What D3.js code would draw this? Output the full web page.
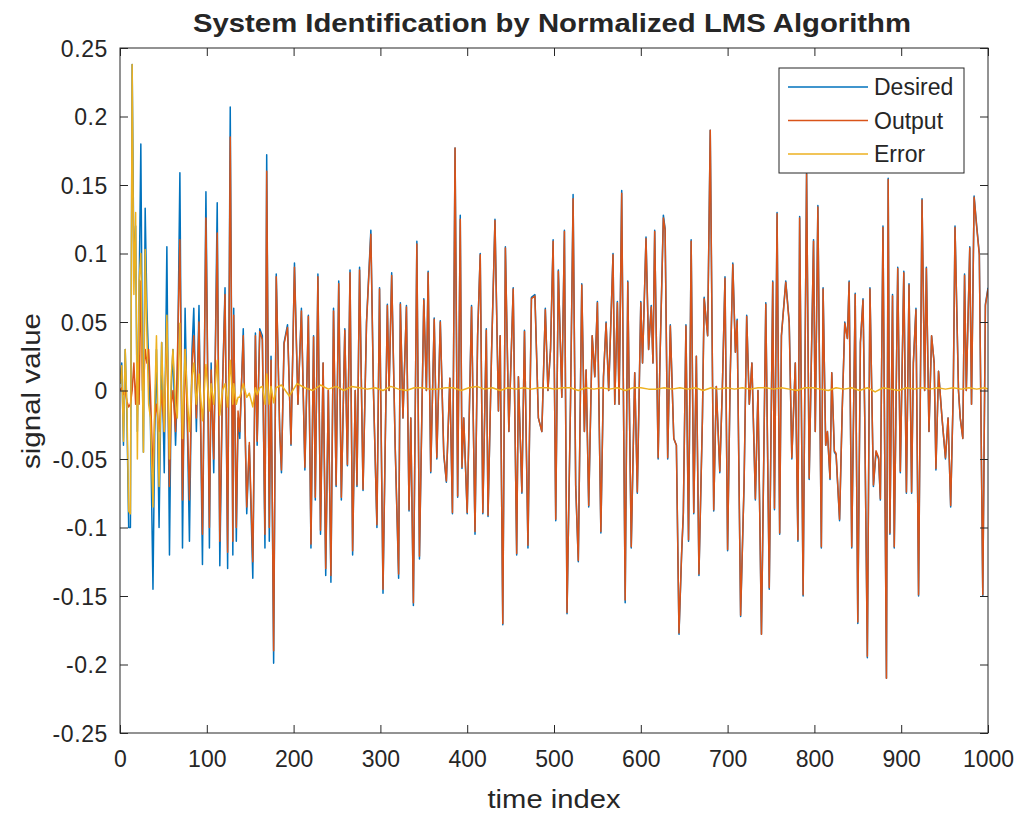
<!DOCTYPE html>
<html><head><meta charset="utf-8">
<script src="https://cdn.jsdelivr.net/npm/d3@7"></script>
<style>
body{margin:0;background:#fff;}
text{font-family:"Liberation Sans",Arial,Helvetica,sans-serif;fill:#262626;}
</style>
</head><body>
<svg id="chart" width="1019" height="815"></svg>
<script>
const timeIndex = [
0,2,4,6,8,10,12,14,16,18,
20,22,24,26,27,29,31,33,35,38,
40,42,45,48,51,54,57,59,61,64,
66,69,72,75,78,80,83,85,88,91,
95,99,103,105,108,112,115,118,121,124,
127,130,131,134,136,138,142,146,149,153,
156,158,161,164,167,169,172,174,177,180,
184,186,189,193,197,201,205,209,213,217,
220,223,225,228,231,234,237,240,243,246,
249,252,255,259,262,265,268,271,273,276,
280,284,289,292,296,299,303,308,310,313,
317,321,323,326,330,333,335,338,342,345,
350,353,355,358,362,365,369,373,376,380,
383,386,389,392,394,396,400,405,409,412,
415,418,422,424,428,432,436,438,441,444,
448,453,457,459,463,466,470,474,478,482,
486,490,493,496,499,502,505,509,512,515,
519,522,525,528,532,535,537,540,544,547,
550,554,557,560,563,568,570,573,575,578,
582,585,589,593,596,600,602,606,609,612,
614,616,620,622,626,628,631,634,638,641,
644,647,649,652,655,658,661,664,667,671,
673,677,680,684,687,691,694,697,700,703,
706,709,711,715,719,722,725,728,732,735,
739,744,748,752,754,757,760,762,767,771,
774,778,781,783,787,791,794,799,801,804,
808,810,813,815,818,820,823,825,829,832,
835,838,840,843,847,850,853,856,858,861,
864,868,871,874,876,879,883,885,887,890,
892,896,899,903,906,909,912,914,917,920,
924,927,929,932,935,938,940,943,947,951,
954,957,960,962,966,968,971,973,975,979,
981,984,987,990,994,997,1000];

const desired = [
0.005,0.02,-0.04,0.03,-0.02,-0.1,-0.1,0.238,0.09,0.12,
-0.03,0.07,0.18,0,-0.045,0.133,0.06,0.02,-0.02,-0.145,
-0.03,0.03,-0.1,0.035,-0.06,0.105,-0.12,0,0.03,-0.04,
0,0.159,-0.115,0.06,-0.04,-0.11,0.03,0.06,-0.03,0.062,
-0.127,0.145,-0.115,0.02,-0.06,0.137,-0.128,0,0.075,-0.13,
0.207,-0.12,0.06,-0.11,-0.02,-0.035,0.045,-0.09,-0.04,-0.137,
0.042,-0.04,0.045,0.04,-0.115,0.172,-0.11,0.025,-0.199,0.085,
-0.03,-0.06,0.035,0.048,-0.04,0.093,-0.01,0.06,-0.058,0.055,
-0.115,0.04,-0.08,0.085,-0.105,0.02,-0.135,0,-0.14,0.06,
-0.07,0.08,-0.08,0.045,-0.055,0.088,-0.12,0,-0.07,0.09,
-0.073,0.05,0.117,0,-0.1,0.075,-0.148,0.063,0,0.086,
-0.04,-0.137,0.064,-0.02,0.062,-0.088,-0.02,-0.157,0.109,-0.123,
0.067,0,0.087,-0.06,0.053,-0.05,0.051,-0.047,-0.067,0.009,
-0.09,0.177,-0.078,0.128,-0.057,-0.02,-0.09,0.062,-0.105,0.04,
0.1,-0.09,0.045,-0.092,0.026,0.125,-0.015,0.04,-0.171,0.105,
-0.03,0.075,-0.12,0.01,-0.075,0.044,-0.115,0.068,0.07,-0.02,
-0.03,0.06,0,0.03,0.11,-0.095,0.088,-0.005,0.117,-0.163,
-0.01,0.143,-0.07,-0.125,0.078,-0.03,0.015,-0.085,0.04,0.01,
0.065,-0.104,0.01,0.05,0,0.1,-0.01,0.065,-0.01,0.146,
-0.155,0.08,-0.115,0.013,-0.075,0.065,0.02,0.112,0.03,0.062,
0.02,0.117,-0.05,0.02,0.128,0.118,-0.05,0.048,-0.035,-0.04,
-0.178,-0.12,-0.09,0.048,-0.11,0.11,-0.09,0.025,-0.135,-0.02,
0.068,0.04,0.19,-0.088,0.003,-0.06,0.003,0.083,-0.117,0.01,
0.093,0.028,0.052,-0.165,-0.068,0.055,-0.01,0.02,-0.08,0,
-0.178,0.064,-0.145,0.08,-0.087,0.13,-0.105,0.04,0.08,0.05,
-0.05,0.02,-0.11,0.127,-0.15,0.16,-0.065,0.11,-0.03,0.135,
-0.115,0.075,-0.04,-0.03,-0.065,0.013,-0.045,-0.047,-0.095,-0.015,
0.05,0.038,0.08,-0.115,0.071,-0.17,0.035,0.067,-0.02,-0.195,
0.075,-0.07,-0.045,-0.05,-0.08,0.12,-0.21,0.155,-0.105,0.07,
-0.115,0.09,-0.06,0.087,-0.075,0.078,-0.075,0.02,0.06,-0.15,
0.14,0,0.09,-0.03,0.04,0.02,-0.058,0.014,-0.02,-0.05,
-0.02,-0.085,0,0.12,0,-0.02,-0.035,0.085,0,0.105,
-0.01,0.142,0.12,0.1,-0.15,0.063,0.075];

const output = [
0,0.002,-0.003,0,-0.008,-0.012,-0.01,0,0.02,-0.01,
0.02,-0.01,0.08,0,0,0.03,0.02,0.03,0,-0.06,
-0.02,-0.01,-0.03,0,-0.03,0.05,-0.07,-0.01,0,-0.03,
0.02,0.11,-0.08,0.03,-0.03,-0.08,0.02,0.04,-0.02,0.05,
-0.105,0.126,-0.1,0.015,-0.05,0.115,-0.11,0,0.07,-0.118,
0.185,-0.11,0.055,-0.1,-0.015,-0.03,0.04,-0.085,-0.038,-0.125,
0.04,-0.037,0.043,0.037,-0.105,0.16,-0.1,0.022,-0.19,0.083,
-0.03,-0.058,0.034,0.046,-0.039,0.09,-0.01,0.058,-0.056,0.054,
-0.112,0.039,-0.078,0.083,-0.102,0.02,-0.13,0,-0.135,0.058,
-0.069,0.078,-0.078,0.044,-0.054,0.086,-0.117,0,-0.069,0.088,
-0.072,0.049,0.114,0,-0.098,0.074,-0.145,0.062,0,0.084,
-0.04,-0.134,0.063,-0.02,0.061,-0.087,-0.02,-0.155,0.107,-0.121,
0.066,0,0.086,-0.059,0.052,-0.049,0.05,-0.046,-0.066,0.009,
-0.089,0.177,-0.077,0.125,-0.056,-0.02,-0.089,0.061,-0.103,0.04,
0.099,-0.089,0.044,-0.091,0.026,0.124,-0.015,0.04,-0.17,0.104,
-0.03,0.074,-0.119,0.01,-0.074,0.043,-0.113,0.067,0.069,-0.02,
-0.03,0.059,0,0.03,0.109,-0.094,0.087,-0.005,0.116,-0.162,
-0.01,0.14,-0.069,-0.124,0.077,-0.03,0.015,-0.084,0.04,0.01,
0.064,-0.103,0.01,0.049,0,0.099,-0.01,0.064,-0.01,0.144,
-0.153,0.079,-0.114,0.013,-0.074,0.064,0.02,0.111,0.03,0.061,
0.02,0.116,-0.049,0.02,0.126,0.117,-0.049,0.047,-0.035,-0.04,
-0.177,-0.119,-0.089,0.047,-0.109,0.109,-0.089,0.025,-0.134,-0.02,
0.067,0.04,0.19,-0.087,0.003,-0.059,0.003,0.082,-0.116,0.01,
0.092,0.028,0.051,-0.164,-0.067,0.054,-0.01,0.02,-0.079,0,
-0.178,0.063,-0.144,0.079,-0.086,0.129,-0.104,0.04,0.079,0.049,
-0.049,0.02,-0.109,0.126,-0.149,0.158,-0.064,0.109,-0.03,0.134,
-0.114,0.074,-0.04,-0.03,-0.064,0.013,-0.044,-0.046,-0.094,-0.015,
0.049,0.038,0.079,-0.114,0.07,-0.169,0.035,0.066,-0.02,-0.194,
0.074,-0.069,-0.044,-0.049,-0.079,0.119,-0.21,0.154,-0.104,0.069,
-0.114,0.089,-0.059,0.086,-0.074,0.077,-0.074,0.02,0.059,-0.149,
0.139,0,0.089,-0.03,0.04,0.02,-0.057,0.014,-0.02,-0.049,
-0.02,-0.084,0,0.119,0,-0.02,-0.035,0.084,0,0.104,
-0.01,0.141,0.119,0.099,-0.149,0.062,0.074];

const errorIndex = [
0,2,4,6,8,10,12,14,16,18,
20,22,24,26,27,29,31,33,35,38,
40,42,45,48,51,54,57,59,61,64,
66,69,72,75,78,80,83,85,88,91,
95,99,103,105,108,112,115,118,121,124,
127,130,131,134,136,138,142,146,149,153,
156,158,161,164,167,169,172,174,177,180,
186,195,204,213,222,231,240,249,258,267,
276,285,294,303,312,321,330,339,348,357,
366,375,384,393,402,411,420,429,438,447,
456,465,474,483,492,501,510,519,528,537,
546,555,564,573,582,591,600,609,618,627,
636,645,654,663,672,681,690,699,708,717,
726,735,744,753,762,771,780,789,798,807,
816,825,834,843,852,861,870,879,888,897,
906,915,924,933,942,951,960,969,978,987,
996,1000];

const errorValues = [
0.005,0.018,-0.037,0.03,-0.012,-0.088,-0.09,0.238,0.07,0.13,
-0.05,0.08,0.1,0,-0.045,0.103,0.04,-0.01,-0.02,-0.085,
-0.01,0.04,-0.07,0.035,-0.03,0.055,-0.05,0.01,0.03,-0.01,
-0.02,0.049,-0.035,0.03,-0.01,-0.03,0.01,0.02,-0.01,0.012,
-0.022,0.019,-0.015,0.005,-0.01,0.022,-0.018,0,0.005,-0.012,
0.022,-0.01,0.005,-0.01,-0.005,-0.005,0.005,-0.005,-0.002,-0.012,
0.002,-0.003,0.002,0.003,-0.01,0.012,-0.01,0.003,-0.009,0.002,
0.004,-0.004,0.005,0.002,0.000,0.004,0.001,0.003,0.000,0.003,
0.002,0.001,0.002,0.000,0.003,0.001,0.000,0.002,0.002,0.001,
0.001,0.002,0.002,0.000,0.002,0.003,0.001,0.002,0.000,0.002,
0.001,0.002,0.001,0.002,0.002,0.001,0.002,0.002,0.000,0.002,
0.001,0.002,0.001,0.002,0.000,0.002,0.002,0.001,0.001,0.002,
0.001,0.002,0.001,0.002,0.000,0.002,0.001,0.002,0.001,0.002,
0.001,0.002,0.002,0.001,0.002,0.001,0.000,0.002,0.002,0.001,
0.000,0.002,0.001,0.002,0.000,0.002,-0.001,0.002,0.001,0.000,
0.002,0.001,0.002,0.001,0.002,0.001,0.002,0.001,0.002,0.001,
0.002,0.001];

const xTicks = [0,100,200,300,400,500,600,700,800,900,1000];
const yTicks = [-0.25,-0.2,-0.15,-0.1,-0.05,0,0.05,0.1,0.15,0.2,0.25];
const seriesNames = ["Desired","Output","Error"];
const seriesColors = ["#0072BD","#D95319","#EDB120"];
const titleText = "System Identification by Normalized LMS Algorithm";
const xLabelText = "time index";
const yLabelText = "signal value";

const L = 120, R = 988, T = 48, B = 733;
const svg = d3.select("#chart");
const x = d3.scaleLinear().domain([0,1000]).range([L,R]);
const y = d3.scaleLinear().domain([-0.25,0.25]).range([B,T]);
const fmt = v => String(+v.toFixed(2));

svg.append("rect").attr("x",0).attr("y",0).attr("width",1019).attr("height",815).attr("fill","#fff");

svg.append("defs").append("clipPath").attr("id","clip")
  .append("rect").attr("x",L).attr("y",T).attr("width",R-L).attr("height",B-T);

const series = [
  timeIndex.map((t,i)=>[t,desired[i]]),
  timeIndex.map((t,i)=>[t,output[i]]),
  errorIndex.map((t,i)=>[t,errorValues[i]])
];
const line = d3.line().x(d=>x(d[0])).y(d=>y(d[1]));
const g = svg.append("g").attr("clip-path","url(#clip)");
series.forEach((s,i)=>{
  g.append("path").datum(s).attr("d",line)
    .attr("fill","none").attr("stroke",seriesColors[i])
    .attr("stroke-width",1.5).attr("stroke-linejoin","round");
});

const tickLen = 8;
const axB = svg.append("g").attr("transform",`translate(0,${B})`)
  .call(d3.axisBottom(x).tickValues(xTicks).tickFormat(fmt).tickSizeInner(-tickLen).tickSizeOuter(0).tickPadding(0));
const axT = svg.append("g").attr("transform",`translate(0,${T})`)
  .call(d3.axisTop(x).tickValues(xTicks).tickFormat("").tickSizeInner(-tickLen).tickSizeOuter(0));
const axL = svg.append("g").attr("transform",`translate(${L},0)`)
  .call(d3.axisLeft(y).tickValues(yTicks).tickFormat(fmt).tickSizeInner(-tickLen).tickSizeOuter(0).tickPadding(0));
const axR = svg.append("g").attr("transform",`translate(${R},0)`)
  .call(d3.axisRight(y).tickValues(yTicks).tickFormat("").tickSizeInner(-tickLen).tickSizeOuter(0));
[axB,axT,axL,axR].forEach(a=>{
  a.select(".domain").remove();
  a.selectAll("line").attr("stroke","#262626").attr("stroke-width",1);
  a.selectAll("text").attr("font-family","'Liberation Sans',Arial,sans-serif").attr("font-size",23).attr("fill","#262626");
});
axB.selectAll("text").attr("dy",null).attr("y",34);
axL.selectAll("text").attr("x",-12).attr("dy","0.35em").attr("letter-spacing","0.6");

svg.append("rect").attr("x",L).attr("y",T).attr("width",R-L).attr("height",B-T)
  .attr("fill","none").attr("stroke","#262626").attr("stroke-width",1);

svg.append("text").attr("x",552).attr("y",32).attr("text-anchor","middle")
  .attr("font-size",25).attr("font-weight","bold").attr("fill","#1a1a1a")
  .attr("textLength",718).attr("lengthAdjust","spacingAndGlyphs").text(titleText);
svg.append("text").attr("x",554).attr("y",808).attr("text-anchor","middle")
  .attr("font-size",26).attr("textLength",133).attr("lengthAdjust","spacingAndGlyphs").text(xLabelText);
svg.append("text").attr("transform","translate(40,391) rotate(-90)").attr("text-anchor","middle")
  .attr("font-size",26).attr("textLength",156).attr("lengthAdjust","spacingAndGlyphs").text(yLabelText);

const lg = svg.append("g");
lg.append("rect").attr("x",779).attr("y",68).attr("width",185).attr("height",105)
  .attr("fill","#fff").attr("stroke","#262626").attr("stroke-width",1);
seriesNames.forEach((n,i)=>{
  const yy = 87 + i*33.5;
  lg.append("line").attr("x1",788).attr("x2",868).attr("y1",yy).attr("y2",yy)
    .attr("stroke",seriesColors[i]).attr("stroke-width",1.5);
  lg.append("text").attr("x",874).attr("y",yy).attr("dy","0.35em")
    .attr("font-size",23).text(n);
});
</script>
</body></html>
